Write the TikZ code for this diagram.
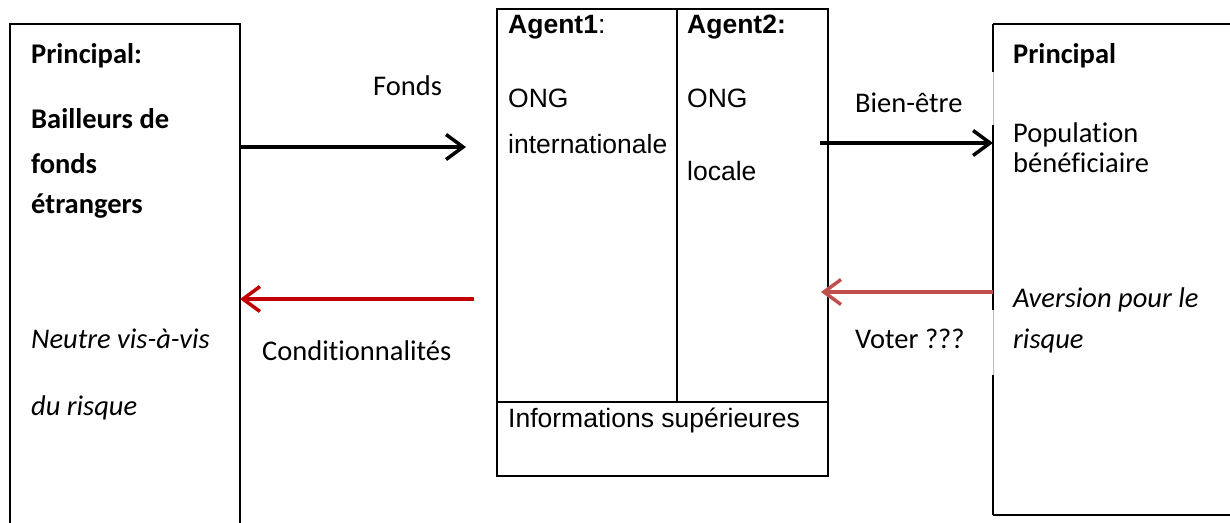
\documentclass[tikz,border=0pt]{standalone}
\usepackage{fontspec}
\setmainfont[Ligatures=CommonOff]{Carlito}
\newfontfamily\arialfont{Liberation Sans}
\usetikzlibrary{arrows.meta}
\newcommand\cbrtext{\fontsize{28.5}{34}\selectfont}
\newcommand\arltext{\arialfont\fontsize{26.5}{32}\selectfont}
\definecolor{darkred}{HTML}{C00000}
\definecolor{softred}{HTML}{C0504D}
\tikzset{
  frame/.style={draw=black, line width=2pt},
  txt/.style={anchor=base west, inner sep=0pt, font=\cbrtext},
  atxt/.style={anchor=base west, inner sep=0pt, font=\arltext},
  flow/.style={line width=3.5pt, -{Straight Barb[length=17pt,width=25pt]}},
}
\begin{document}
\begin{tikzpicture}[x=1pt,y=-1pt]
\useasboundingbox (0,0) rectangle (1230,522);

% boxes
\draw[frame] (10,540) -- (10,24) -- (240,24) -- (240,540);
\coordinate (lboxE) at (240,0);
\draw[frame] (497,9) rectangle (828,476);
\draw[frame] (677,9) -- (677,402);
\draw[frame] (497,402) -- (828,402);
\coordinate (mboxW) at (497,0);
\coordinate (mboxE) at (828,0);
\draw[frame] (993,24) -- (1240,24);
\draw[frame] (993,515) -- (1240,515);
% left edge of the beneficiary box
\draw[line width=1pt, draw=black!25] (993,24) -- (993,515);
\draw[frame] (993,24) -- (993,72);
\draw[frame] (993,125) -- (993,310);
\draw[frame] (993,375) -- (993,515);
\coordinate (rboxW) at (993,0);

% left principal
\node[txt, font=\cbrtext\bfseries] (p1) at (31,63) {Principal:};
\node[txt, font=\cbrtext\bfseries] (b1) at (31,128) {Bailleurs de};
\node[txt, font=\cbrtext\bfseries] (b2) at (31,173) {fonds};
\node[txt, font=\cbrtext\bfseries] (b3) at (31,213) {étrangers};
\node[txt, font=\cbrtext\itshape] (n1) at (31,348) {Neutre vis-à-vis};
\node[txt, font=\cbrtext\itshape] (n2) at (31,415) {du risque};

% agents
\node[atxt, font=\arltext\bfseries] (a1) at (508,33) {Agent1\mdseries:};
\node[atxt] (o1) at (508,107) {ONG};
\node[atxt] (o2) at (508,153) {internationale};
\node[atxt, font=\arltext\bfseries] (a2) at (687,33) {Agent2:};
\node[atxt] (l1) at (687,107) {ONG};
\node[atxt] (l2) at (687,180) {locale};
\node[atxt] (inf) at (508,427) {Informations supérieures};

% right principal
\node[txt, font=\cbrtext\bfseries] (p2) at (1013,63) {Principal};
\node[txt] (pop1) at (1013,142) {Population};
\node[txt] (pop2) at (1013,172) {bénéficiaire};
\node[txt, font=\cbrtext\itshape] (av1) at (1013,307) {Aversion pour le};
\node[txt, font=\cbrtext\itshape] (av2) at (1013,348) {risque};

% flow labels
\node[txt] (fonds) at (373,95) {Fonds};
\node[txt] (cond) at (262,360) {Conditionnalités};
\node[txt] (bien) at (855,112) {Bien-être};
\node[txt] (vote) at (855,348) {Voter ???};

% connectors
\coordinate (fondsEnd) at (466,147);
\coordinate (condStart) at (474,299);
\coordinate (bienStart) at (820,143);
\coordinate (voteEnd) at (821,292);
\draw[flow] (lboxE |- 0,147) -- (fondsEnd);
\draw[flow, draw=darkred] (condStart) -- (lboxE |- 0,299);
\draw[flow] (bienStart) -- (rboxW |- 0,143);
\draw[flow, draw=softred] (rboxW |- 0,292) -- (voteEnd);
\end{tikzpicture}
\end{document}
